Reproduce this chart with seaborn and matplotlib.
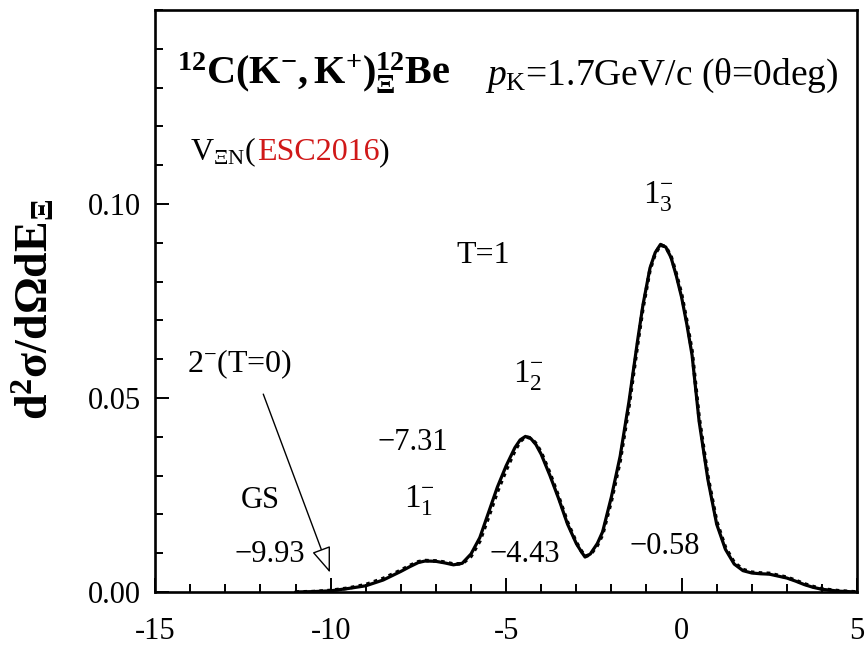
import matplotlib
matplotlib.use('Agg')
import matplotlib.pyplot as plt
import seaborn as sns
from matplotlib.ticker import MultipleLocator, FixedLocator, FuncFormatter

# energy E_Xi (MeV) and cross section
e_xi = [-11, -10.5, -10, -9.5, -9, -8.5, -8, -7.75, -7.5, -7.3, -7, -6.75,
        -6.5, -6.25, -6, -5.75, -5.5, -5.25, -5, -4.75, -4.6, -4.45, -4.3,
        -4.15, -4, -3.75, -3.5, -3.25, -3, -2.85, -2.75, -2.6, -2.4, -2.25,
        -2, -1.75, -1.5, -1.25, -1.1, -0.9, -0.75, -0.6, -0.45, -0.3, -0.15,
        0, 0.15, 0.3, 0.5, 0.75, 1, 1.25, 1.5, 1.75, 2, 2.25, 2.5, 2.75, 3,
        3.25, 3.5, 3.75, 4, 4.5, 5]
xs_solid = [0.0, 0.0001, 0.0003, 0.0009, 0.0016, 0.0031, 0.0053, 0.0065,
            0.0076, 0.0080, 0.0079, 0.0075, 0.0070, 0.0074, 0.0098, 0.0140,
            0.0205, 0.0270, 0.0325, 0.0372, 0.0392, 0.0401, 0.0396, 0.0380,
            0.0355, 0.0300, 0.0240, 0.0175, 0.0125, 0.0103, 0.0090, 0.0098,
            0.0125, 0.0155, 0.0245, 0.0350, 0.0490, 0.0650, 0.0740, 0.0835,
            0.0875, 0.0896, 0.0889, 0.0862, 0.0815, 0.0760, 0.0690, 0.0610,
            0.0440, 0.0290, 0.0175, 0.0110, 0.0072, 0.0055, 0.0049, 0.0047,
            0.0046, 0.0041, 0.0036, 0.0028, 0.0019, 0.0012, 0.0007, 0.0002,
            0.0]
xs_dotted = [0.0, 0.0001, 0.0004, 0.0010, 0.0019, 0.0035, 0.0056, 0.0068,
             0.0078, 0.0081, 0.0080, 0.0077, 0.0072, 0.0073, 0.0092, 0.0131,
             0.0193, 0.0258, 0.0314, 0.0364, 0.0388, 0.0400, 0.0397, 0.0383,
             0.0360, 0.0306, 0.0245, 0.0180, 0.0128, 0.0105, 0.0092, 0.0096,
             0.0120, 0.0148, 0.0235, 0.0338, 0.0478, 0.0640, 0.0732, 0.0830,
             0.0872, 0.0894, 0.0890, 0.0865, 0.0820, 0.0768, 0.0698, 0.0620,
             0.0450, 0.0298, 0.0182, 0.0115, 0.0076, 0.0058, 0.0051, 0.0049,
             0.0048, 0.0043, 0.0038, 0.0030, 0.0021, 0.0014, 0.0008, 0.0003,
             0.0]

# level labels: (x, y, text)
levels = [(-7.46, 0.0236, r'$1^{-}_{1}$'),
          (-4.35, 0.0560, r'$1^{-}_{2}$'),
          (-0.67, 0.1020, r'$1^{-}_{3}$')]
energies = [(-11.73, 0.0097, '\u22129.93'),
            (-7.65, 0.0385, '\u22127.31'),
            (-4.46, 0.0097, '\u22124.43'),
            (-0.48, 0.0116, '\u22120.58')]
y_major = [0.0, 0.05, 0.10]

##
sns.set_style('ticks')
plt.rcParams['font.family'] = ['Liberation Serif', 'DejaVu Serif']
plt.rcParams['mathtext.fontset'] = 'custom'
plt.rcParams['mathtext.rm'] = 'Liberation Serif'
plt.rcParams['mathtext.it'] = 'Liberation Serif:italic'
plt.rcParams['mathtext.bf'] = 'Liberation Serif:bold'
plt.rcParams['axes.unicode_minus'] = False
for k in ['text.color', 'axes.labelcolor', 'xtick.color', 'ytick.color',
          'axes.edgecolor']:
  plt.rcParams[k] = 'black'

fig, ax = plt.subplots(figsize=(8.67, 6.46), dpi=100)
fig.subplots_adjust(left=0.179, right=0.9885, bottom=0.0836, top=0.9845)

sns.lineplot(x=e_xi, y=xs_solid, ax=ax, color='black', lw=2.3)
sns.lineplot(x=e_xi, y=xs_dotted, ax=ax, color='black', lw=2.6,
             linestyle=(0, (1, 1.2)))

ax.set_xlim(-15, 5)
ax.set_ylim(0, 0.15)

##
ax.xaxis.set_major_locator(MultipleLocator(5))
ax.xaxis.set_minor_locator(MultipleLocator(1))
ax.yaxis.set_major_locator(FixedLocator(y_major))
ax.yaxis.set_minor_locator(MultipleLocator(0.01))
ax.xaxis.set_major_formatter(FuncFormatter(lambda a, _: '{:g}'.format(a)))
ax.yaxis.set_major_formatter(FuncFormatter(lambda a, _: '{:.2f}'.format(a)))
ax.tick_params(which='both', direction='in', top=False, right=False,
               labelsize=22, width=1.4, color='black', labelcolor='black')
ax.tick_params(which='major', length=10)
ax.tick_params(which='minor', length=5.5)
ax.tick_params(axis='x', pad=18)
ax.tick_params(axis='y', pad=10)
for sp in ax.spines.values():
  sp.set_linewidth(1.9)
  sp.set_color('black')
  sp.set_visible(True)

ax.set_xlabel('')
ax.set_ylabel(r'$\mathbf{d^{2}\sigma/d\Omega dE_{\Xi}}$', fontsize=33,
              va='center')
ax.yaxis.set_label_coords(-0.172, 0.486)

##
ax.text(-14.38, 0.1308, r'$\mathbf{{}^{12}C(K^{-},K^{+}){}^{12}_{\Xi}Be}$',
        fontsize=29, va='baseline', ha='left')
ax.text(-5.60, 0.1308, r'$p_{\mathrm{K}}$=1.7GeV/c (θ=0deg)',
        fontsize=27, va='baseline', ha='left')
t1 = ax.text(-14.0, 0.1113, r'V$_{\Xi\mathrm{N}}$(', fontsize=23,
             va='baseline', ha='left')
fig.canvas.draw()
bb = t1.get_window_extent().transformed(ax.transData.inverted())
t2 = ax.text(bb.x1, 0.1113, 'ESC2016', color='#d01818', fontsize=23,
             va='baseline', ha='left')
bb2 = t2.get_window_extent().transformed(ax.transData.inverted())
ax.text(bb2.x1, 0.1113, ')', fontsize=23, va='baseline', ha='left')

ax.text(-5.66, 0.0868, 'T=1', fontsize=23, ha='center', va='center')
ax.text(-14.10, 0.0587, r'$2^{-}$(T=0)', fontsize=23, ha='left', va='center')
ax.text(-12.01, 0.0236, 'GS', fontsize=22, ha='center', va='center')
for x, y, s in levels:
  ax.text(x, y, s, fontsize=24, ha='center', va='center')
for x, y, s in energies:
  ax.text(x, y, s, fontsize=22, ha='center', va='center')

ax.annotate('', xy=(-10.02, 0.005), xytext=(-11.92, 0.051),
            arrowprops=dict(arrowstyle='-|>,head_length=0.8,head_width=0.3',
                            fc='white', ec='black', lw=1.0, mutation_scale=20,
                            shrinkA=0, shrinkB=0))

plt.savefig('out.png', dpi=100)
